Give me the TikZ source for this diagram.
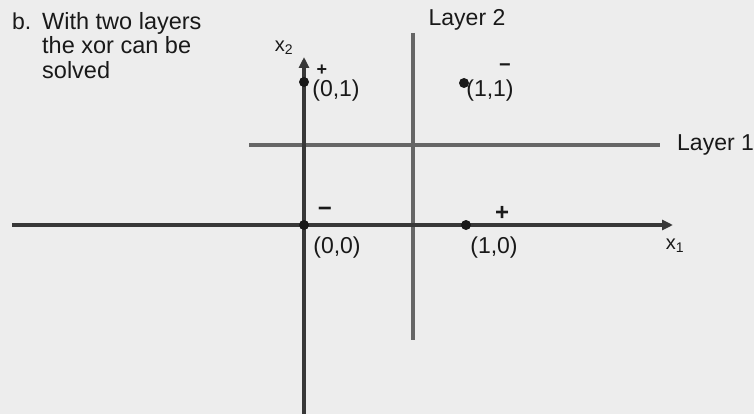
\documentclass[tikz,border=0pt]{standalone}
\usepackage{fontspec}
\setmainfont{Liberation Sans}
\usetikzlibrary{arrows.meta}
\definecolor{paper}{gray}{0.93}
\definecolor{ink}{gray}{0.1}
\definecolor{axisc}{gray}{0.22}
\definecolor{layerc}{gray}{0.40}
\begin{document}
\begin{tikzpicture}[x=1pt,y=-1pt,
  txt/.style={inner sep=0pt,text=ink,font=\fontsize{23}{25}\selectfont},
  sgn/.style={inner sep=0pt,text=ink,font=\bfseries\fontsize{24}{24}\selectfont},
  axl/.style={inner sep=0pt,text=ink,font=\fontsize{20}{22}\selectfont},
  axisline/.style={draw=axisc,line width=3.4pt,-{Triangle[length=11pt,width=10pt]}},
  layerline/.style={draw=layerc,line width=3.2pt},
  dotp/.style={circle,fill=ink,inner sep=0pt,minimum size=10pt}]
\fill[paper] (0,0) rectangle (754,414);
\useasboundingbox (0,0) rectangle (754,414);
% title
\node[txt,anchor=base west] (tb) at (12,30) {b.};
\node[txt,anchor=north west,align=left,font=\fontsize{23.5}{24.5}\selectfont] (title) at (42,12) {With two layers\\the xor can be\\solved};
% axis coordinates
\coordinate (x1s) at (12,225);
\coordinate (x1e) at (673,225);
\coordinate (x2s) at (304,414);
\coordinate (x2e) at (304,57);
% layer lines
\coordinate (l1s) at (249,145);
\coordinate (l1e) at (660,145);
\coordinate (l2s) at (413,33);
\coordinate (l2e) at (413,340);
\draw[layerline] (l1s) -- (l1e);
\draw[layerline] (l2s) -- (l2e);
\draw[axisline] (x1s) -- (x1e);
\draw[axisline] (x2s) -- (x2e);
% points
\node[dotp] (p00) at (304,225) {};
\node[dotp] (p10) at (466,225) {};
\node[dotp] (p01) at (304,82) {};
\node[dotp] (p11) at (464,83) {};
% labels
\node[txt] (lab00) at (337,248) {(0,0)};
\node[txt] (lab10) at (494,248) {(1,0)};
\node[txt] (lab01) at (336,91) {(0,1)};
\node[txt] (lab11) at (490,91) {(1,1)};
\node[sgn] (s00) at (325,212) {\textminus};
\node[sgn] (s10) at (502,213) {+};
\node[sgn,font=\bfseries\fontsize{18}{18}\selectfont] (s01) at (322,70) {+};
\node[sgn,font=\bfseries\fontsize{20}{20}\selectfont] (s11) at (505,68) {\textminus};
\node[axl] (ax1) at (675,246) {x\textsubscript{1}};
\node[axl] (ax2) at (284,48) {x\textsubscript{2}};
\node[txt] (lay2) at (467,20) {Layer 2};
\node[txt,anchor=west] (lay1) at (677,145) {Layer 1};
\end{tikzpicture}
\end{document}
